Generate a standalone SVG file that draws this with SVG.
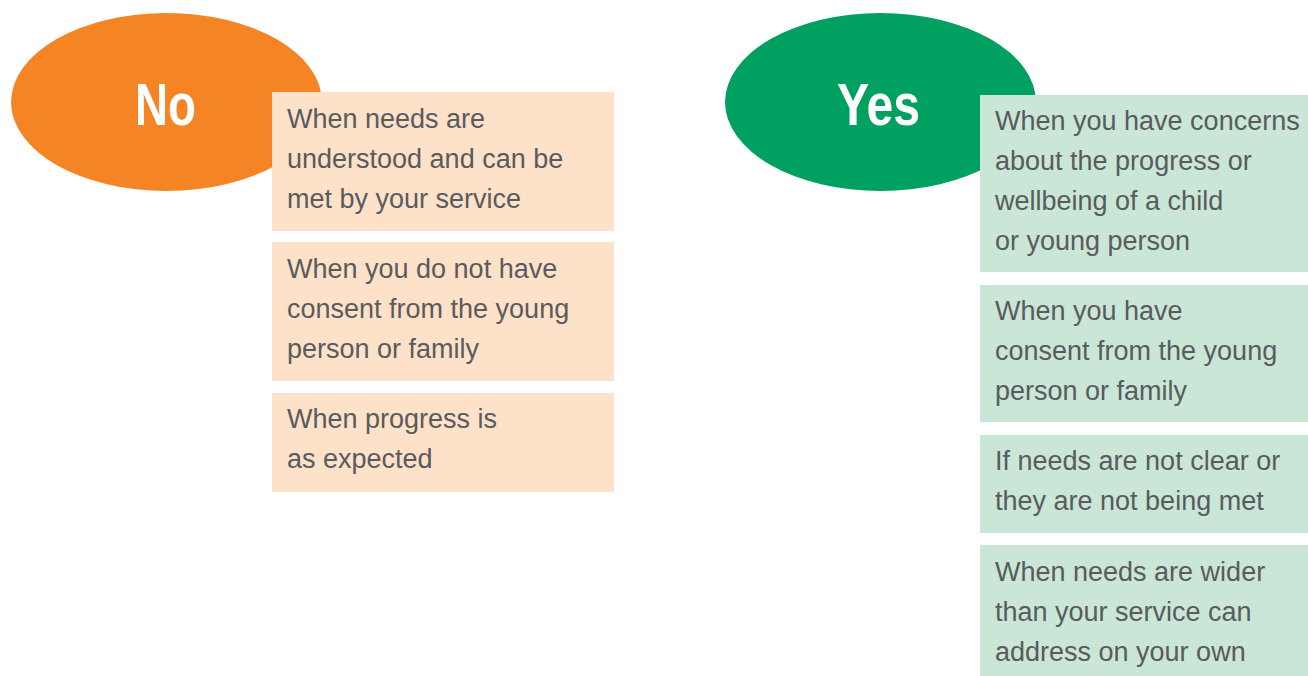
<svg xmlns="http://www.w3.org/2000/svg" width="1308" height="676" viewBox="0 0 1308 676">
<style>
.lbl{font-family:"Liberation Sans",Arial,sans-serif;font-weight:bold;font-size:60px;fill:#ffffff}
.t{font-family:"Liberation Sans",Arial,sans-serif;font-size:27px;fill:#5a5b5d}
.ob{fill:#fde1c9}
.gb{fill:#c9e6d7}
</style>
<rect width="1308" height="676" fill="#ffffff"/>
<g id="no">
<ellipse cx="166.5" cy="102" rx="155.5" ry="89" fill="#f48424"/>
<text class="lbl" x="135" y="125" textLength="61" lengthAdjust="spacingAndGlyphs">No</text>
</g>
<g id="yes">
<ellipse cx="880.5" cy="102" rx="155.5" ry="89" fill="#00a160"/>
<text class="lbl" x="837" y="125" textLength="83" lengthAdjust="spacingAndGlyphs">Yes</text>
</g>
<g id="no1">
<rect class="ob" x="272" y="92" width="342" height="139"/>
<text class="t" x="287" y="128">When needs are</text>
<text class="t" x="287" y="168">understood and can be</text>
<text class="t" x="287" y="208">met by your service</text>
</g>
<g id="no2">
<rect class="ob" x="272" y="242" width="342" height="139"/>
<text class="t" x="287" y="278">When you do not have</text>
<text class="t" x="287" y="318">consent from the young</text>
<text class="t" x="287" y="358">person or family</text>
</g>
<g id="no3">
<rect class="ob" x="272" y="393" width="342" height="99"/>
<text class="t" x="287" y="428">When progress is</text>
<text class="t" x="287" y="468">as expected</text>
</g>
<g id="yes1">
<rect class="gb" x="980" y="95" width="328" height="177"/>
<text class="t" x="995" y="130">When you have concerns</text>
<text class="t" x="995" y="170">about the progress or</text>
<text class="t" x="995" y="210">wellbeing of a child</text>
<text class="t" x="995" y="250">or young person</text>
</g>
<g id="yes2">
<rect class="gb" x="980" y="285" width="328" height="137"/>
<text class="t" x="995" y="320">When you have</text>
<text class="t" x="995" y="360">consent from the young</text>
<text class="t" x="995" y="400">person or family</text>
</g>
<g id="yes3">
<rect class="gb" x="980" y="435" width="328" height="98"/>
<text class="t" x="995" y="470">If needs are not clear or</text>
<text class="t" x="995" y="510">they are not being met</text>
</g>
<g id="yes4">
<rect class="gb" x="980" y="545" width="328" height="131"/>
<text class="t" x="995" y="581">When needs are wider</text>
<text class="t" x="995" y="621">than your service can</text>
<text class="t" x="995" y="661">address on your own</text>
</g>
<g id="connectors"/>
</svg>
